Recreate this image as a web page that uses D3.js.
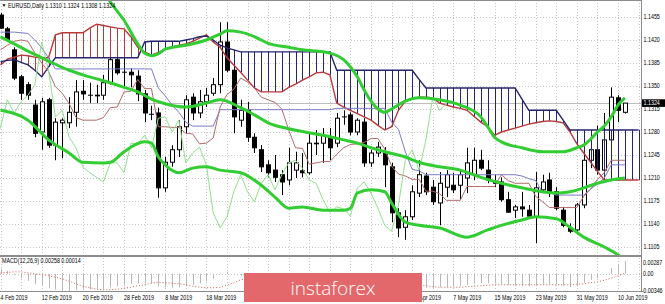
<!DOCTYPE html>
<html>
<head>
<meta charset="utf-8">
<script src="https://cdn.jsdelivr.net/npm/d3@7"></script>
<style>
  body { margin: 0; background: #fff; }
  svg { display: block; }
  .lbl { font-family: "Liberation Sans", Arial, sans-serif; font-size: 6.3px; fill: #000; }
</style>
</head>
<body>
<script>
// EURUSD daily, 4 Feb - 11 Jun 2019: candles, Ichimoku, Bollinger bands, MACD

// candles [open, high, low, close], one per trading day from 4 Feb 2019
const ohlc = [
  [1.1458,1.1461,1.1437,1.1438],[1.1437,1.1440,1.1417,1.1420],[1.1405,1.1409,1.1359,1.1362],[1.1364,1.1367,1.1329,1.1339],
  [1.1352,1.1356,1.1329,1.1336],[1.1321,1.1329,1.1272,1.1278],[1.1280,1.1332,1.1253,1.1326],[1.1329,1.1332,1.1256,1.1260],
  [1.1260,1.1301,1.1237,1.1295],[1.1294,1.1301,1.1240,1.1298],[1.1294,1.1333,1.1286,1.1310],[1.1310,1.1359,1.1288,1.1341],
  [1.1342,1.1359,1.1329,1.1338],[1.1336,1.1355,1.1324,1.1336],[1.1336,1.1352,1.1324,1.1335],[1.1336,1.1367,1.1329,1.1355],
  [1.1355,1.1397,1.1352,1.1390],[1.1390,1.1394,1.1367,1.1370],[1.1371,1.1394,1.1348,1.1371],[1.1371,1.1377,1.1348,1.1367],
  [1.1365,1.1374,1.1327,1.1338],[1.1338,1.1344,1.1295,1.1309],[1.1307,1.1320,1.1298,1.1307],[1.1309,1.1317,1.1180,1.1195],
  [1.1195,1.1242,1.1189,1.1234],[1.1234,1.1260,1.1227,1.1253],[1.1253,1.1298,1.1242,1.1288],[1.1288,1.1336,1.1278,1.1329],
  [1.1333,1.1339,1.1298,1.1309],[1.1309,1.1344,1.1301,1.1326],[1.1326,1.1347,1.1318,1.1336],[1.1339,1.1362,1.1335,1.1352],
  [1.1352,1.1447,1.1339,1.1417],[1.1417,1.1447,1.1371,1.1374],[1.1374,1.1383,1.1278,1.1303],[1.1298,1.1329,1.1288,1.1313],
  [1.1313,1.1326,1.1265,1.1272],[1.1272,1.1278,1.1248,1.1256],[1.1253,1.1260,1.1219,1.1227],[1.1230,1.1237,1.1211,1.1218],
  [1.1222,1.1245,1.1204,1.1211],[1.1215,1.1222,1.1184,1.1204],[1.1207,1.1256,1.1199,1.1233],[1.1222,1.1250,1.1210,1.1233],
  [1.1221,1.1248,1.1211,1.1218],[1.1218,1.1278,1.1215,1.1263],[1.1263,1.1283,1.1245,1.1262],[1.1263,1.1286,1.1233,1.1275],
  [1.1272,1.1286,1.1237,1.1256],[1.1263,1.1309,1.1257,1.1301],[1.1303,1.1313,1.1291,1.1303],[1.1306,1.1310,1.1275,1.1280],
  [1.1280,1.1301,1.1275,1.1298],[1.1295,1.1301,1.1227,1.1233],[1.1233,1.1253,1.1227,1.1248],[1.1248,1.1265,1.1242,1.1257],
  [1.1250,1.1257,1.1196,1.1230],[1.1227,1.1233,1.1143,1.1157],[1.1157,1.1164,1.1120,1.1134],[1.1135,1.1161,1.1116,1.1151],
  [1.1151,1.1199,1.1146,1.1189],[1.1187,1.1237,1.1181,1.1215],[1.1213,1.1218,1.1184,1.1189],[1.1196,1.1207,1.1169,1.1174],
  [1.1172,1.1219,1.1138,1.1202],[1.1196,1.1222,1.1181,1.1215],[1.1199,1.1218,1.1187,1.1192],[1.1199,1.1222,1.1177,1.1215],
  [1.1210,1.1256,1.1187,1.1233],[1.1215,1.1256,1.1207,1.1237],[1.1237,1.1253,1.1222,1.1225],[1.1222,1.1237,1.1202,1.1207],
  [1.1205,1.1215,1.1196,1.1202],[1.1204,1.1211,1.1174,1.1177],[1.1177,1.1189,1.1157,1.1158],[1.1161,1.1169,1.1149,1.1166],
  [1.1166,1.1189,1.1151,1.1163],[1.1161,1.1169,1.1149,1.1152],[1.1151,1.1219,1.1111,1.1195],[1.1192,1.1215,1.1187,1.1204],
  [1.1207,1.1218,1.1181,1.1187],[1.1189,1.1196,1.1161,1.1164],[1.1161,1.1166,1.1135,1.1138],[1.1134,1.1141,1.1126,1.1129],
  [1.1131,1.1172,1.1128,1.1169],[1.1169,1.1253,1.1164,1.1237],[1.1237,1.1275,1.1225,1.1253],[1.1253,1.1290,1.1215,1.1222],
  [1.1222,1.1309,1.1216,1.1268],[1.1268,1.1348,1.1255,1.1333],[1.1332,1.1336,1.1295,1.1313],[1.1310,1.1324,1.1308,1.1324]
];

// Ichimoku
const tenkan = [1.1405,1.1412,1.1418,1.1420,1.1418,1.1400,1.1385,1.1372,1.1349,1.1339,1.1323,1.1302,1.1298,1.1298,1.1298,1.1302,
  1.1317,1.1318,1.1341,1.1342,1.1360,1.1346,1.1346,1.1288,1.1288,1.1287,1.1287,1.1278,1.1277,1.1262,1.1263,1.1271,
  1.1318,1.1337,1.1345,1.1362,1.1356,1.1347,1.1333,1.1329,1.1325,1.1315,1.1283,1.1256,1.1255,1.1231,1.1233,1.1235,
  1.1235,1.1246,1.1256,1.1261,1.1262,1.1264,1.1270,1.1270,1.1254,1.1228,1.1216,1.1213,1.1208,1.1208,1.1190,1.1190,
  1.1186,1.1176,1.1176,1.1176,1.1197,1.1197,1.1197,1.1197,1.1197,1.1215,1.1206,1.1202,1.1202,1.1202,1.1182,1.1174,
  1.1165,1.1165,1.1165,1.1165,1.1165,1.1182,1.1193,1.1208,1.1218,1.1237,1.1237,1.1237];
const kijun = [1.1432,1.1432,1.1432,1.1431,1.1430,1.1420,1.1408,1.1393,1.1376,1.1376,1.1376,1.1376,1.1376,1.1376,1.1376,1.1376,
  1.1376,1.1376,1.1376,1.1376,1.1376,1.1376,1.1376,1.1347,1.1335,1.1321,1.1310,1.1295,1.1289,1.1289,1.1289,1.1289,
  1.1314,1.1314,1.1314,1.1314,1.1314,1.1314,1.1314,1.1314,1.1314,1.1314,1.1314,1.1314,1.1314,1.1314,1.1314,1.1314,
  1.1314,1.1316,1.1316,1.1316,1.1316,1.1316,1.1316,1.1316,1.1316,1.1295,1.1284,1.1250,1.1223,1.1221,1.1215,1.1215,
  1.1215,1.1215,1.1215,1.1215,1.1215,1.1215,1.1215,1.1215,1.1215,1.1215,1.1215,1.1215,1.1213,1.1209,1.1206,1.1188,
  1.1188,1.1184,1.1184,1.1184,1.1184,1.1184,1.1193,1.1201,1.1210,1.1230,1.1230,1.1230];
// senkou spans run 2 bars past the last candle (to the right edge)
const spanA = [1.1382,1.1391,1.1394,1.1397,1.1396,1.1394,1.1393,1.1393,1.1428,1.1431,1.1431,1.1431,1.1431,1.1438,1.1444,1.1442,
  1.1440,1.1438,1.1437,1.1425,1.1409,1.1402,1.1397,1.1401,1.1406,1.1409,1.1412,1.1414,1.1418,1.1423,1.1428,1.1417,
  1.1409,1.1393,1.1382,1.1371,1.1359,1.1347,1.1341,1.1341,1.1341,1.1341,1.1348,1.1353,1.1359,1.1364,1.1370,1.1371,
  1.1367,1.1324,1.1318,1.1313,1.1308,1.1303,1.1298,1.1290,1.1283,1.1288,1.1313,1.1327,1.1330,1.1333,1.1333,1.1332,
  1.1324,1.1321,1.1318,1.1316,1.1313,1.1304,1.1295,1.1288,1.1275,1.1280,1.1283,1.1286,1.1289,1.1292,1.1294,1.1296,
  1.1297,1.1296,1.1294,1.1280,1.1262,1.1248,1.1234,1.1220,1.1207,1.1207,1.1207,1.1207,1.1207,1.1207];
const spanB = [1.1387,1.1389,1.1390,1.1386,1.1382,1.1374,1.1364,1.1379,1.1393,1.1393,1.1393,1.1393,1.1393,1.1393,1.1393,1.1393,
  1.1393,1.1393,1.1393,1.1393,1.1393,1.1417,1.1418,1.1418,1.1418,1.1418,1.1418,1.1420,1.1422,1.1425,1.1426,1.1420,
  1.1412,1.1408,1.1405,1.1402,1.1402,1.1402,1.1402,1.1402,1.1402,1.1402,1.1402,1.1402,1.1402,1.1402,1.1402,1.1402,
  1.1402,1.1374,1.1374,1.1374,1.1374,1.1374,1.1374,1.1374,1.1374,1.1374,1.1374,1.1374,1.1374,1.1360,1.1347,1.1347,
  1.1347,1.1347,1.1347,1.1347,1.1347,1.1347,1.1347,1.1347,1.1347,1.1347,1.1347,1.1347,1.1330,1.1313,1.1313,1.1313,
  1.1313,1.1313,1.1298,1.1283,1.1283,1.1283,1.1283,1.1283,1.1283,1.1283,1.1283,1.1283,1.1283,1.1283];
const chikouShift = 26;

// Bollinger bands, [bar, price]
const bbUpper = [[0,1.1560],[8,1.1560],[12,1.1545],[14,1.1520],[16,1.1478],[17,1.1464],[18,1.1450],[19,1.1432],[20,1.1414],
  [21,1.1400],[22,1.1396],[23,1.1399],[24,1.1406],[27,1.1412],[30,1.1420],[32,1.1429],[33,1.1434],[35,1.1432],[37,1.1425],
  [39,1.1415],[42,1.1409],[44,1.1405],[47,1.1402],[48,1.1400],[50,1.1390],[51,1.1379],[52,1.1364],[53,1.1344],[54,1.1327],
  [55,1.1315],[56,1.1310],[57,1.1315],[59,1.1327],[61,1.1332],[64,1.1329],[67,1.1321],[70,1.1303],[71,1.1288],[72,1.1272],
  [73,1.1265],[76,1.1256],[79,1.1250],[82,1.1250],[84,1.1256],[85,1.1260],[86,1.1269],[87,1.1280],[88,1.1289],[89,1.1303],
  [90,1.1321],[91,1.1332]];
const bbMiddle = [[0,1.1425],[2,1.1414],[4,1.1403],[7,1.1388],[10,1.1374],[12,1.1367],[15,1.1358],[18,1.1348],[20,1.1341],
  [22,1.1330],[24,1.1323],[27,1.1318],[30,1.1324],[32,1.1329],[35,1.1317],[37,1.1306],[39,1.1294],[42,1.1285],[47,1.1275],
  [50,1.1268],[52,1.1263],[54,1.1256],[56,1.1250],[59,1.1242],[61,1.1234],[64,1.1227],[67,1.1222],[70,1.1211],[73,1.1202],
  [76,1.1195],[79,1.1189],[81,1.1187],[83,1.1189],[85,1.1195],[87,1.1202],[89,1.1207],[91,1.1210]];
const bbLower = [[0,1.1313],[4,1.1298],[7,1.1268],[10,1.1248],[12,1.1234],[15,1.1233],[16,1.1234],[18,1.1250],[21,1.1265],
  [22,1.1263],[23,1.1242],[24,1.1230],[26,1.1218],[28,1.1225],[30,1.1227],[32,1.1222],[35,1.1218],[38,1.1199],[40,1.1181],
  [42,1.1164],[44,1.1166],[47,1.1161],[50,1.1161],[51,1.1164],[52,1.1187],[54,1.1192],[56,1.1189],[57,1.1172],[59,1.1143],
  [61,1.1138],[64,1.1134],[68,1.1120],[71,1.1131],[73,1.1138],[76,1.1146],[78,1.1151],[81,1.1148],[83,1.1135],[85,1.1120],
  [88,1.1105],[90,1.1093],[91,1.1085]];

// MACD(12,26,9): main (histogram) and signal
const macdMain = [0.0010,0.0006,-0.0002,-0.0009,-0.0014,-0.0021,-0.0023,-0.0029,-0.0032,-0.0034,-0.00346,-0.0033,-0.0032,
  -0.0031,-0.0030,-0.0029,-0.0027,-0.0025,-0.0022,-0.0020,-0.0019,-0.0019,-0.0019,-0.0025,-0.0027,-0.0028,-0.0027,-0.0024,
  -0.0022,-0.0019,-0.0015,-0.0010,0.0001,0.0004,-0.0001,-0.0004,-0.0008,-0.0012,-0.0017,-0.0021,-0.0024,-0.0027,-0.0027,
  -0.0027,-0.0027,-0.0024,-0.0022,-0.0019,-0.0019,-0.0015,-0.0012,-0.0011,-0.0010,-0.0013,-0.0014,-0.0014,-0.0016,-0.0022,
  -0.0028,-0.0031,-0.0031,-0.0029,-0.0028,-0.0028,-0.0027,-0.0026,-0.0025,-0.0024,-0.0022,-0.0020,-0.0019,-0.0019,-0.0019,
  -0.0020,-0.0022,-0.0023,-0.0024,-0.0025,-0.0023,-0.0020,-0.0020,-0.0021,-0.0024,-0.0027,-0.0025,-0.0018,-0.0012,-0.0009,
  0.0000,0.0012,0.0018,0.00258];
const macdSignal = [0.00016,0.0003,0.0004,0.0004,0.0002,0.0000,-0.0001,-0.0004,-0.0007,-0.0010,-0.0015,-0.0020,-0.0025,
  -0.0028,-0.0031,-0.0032,-0.0032,-0.0031,-0.0029,-0.0027,-0.0024,-0.0022,-0.0019,-0.0017,-0.0018,-0.0019,-0.0020,-0.0022,
  -0.0025,-0.0027,-0.0028,-0.0028,-0.0027,-0.0023,-0.0018,-0.0012,-0.0009,-0.0008,-0.0008,-0.0009,-0.0011,-0.0013,-0.0016,
  -0.0019,-0.0022,-0.0024,-0.0025,-0.0025,-0.0024,-0.0023,-0.0021,-0.0019,-0.0017,-0.0016,-0.0015,-0.0015,-0.0015,-0.0016,
  -0.0018,-0.0019,-0.0021,-0.0023,-0.0024,-0.0026,-0.0027,-0.0027,-0.0027,-0.0027,-0.0026,-0.0025,-0.0024,-0.0023,-0.0022,
  -0.0022,-0.0022,-0.0022,-0.0022,-0.0022,-0.0022,-0.0022,-0.0022,-0.0022,-0.0022,-0.0022,-0.0021,-0.0020,-0.0018,-0.0016,
  -0.0013,-0.0009,-0.0004,0.00014];

// axes
const priceTicks = [1.1455,1.1420,1.1385,1.1350,1.1315,1.1280,1.1245,1.1210,1.1175,1.1140,1.1105];
const macdTickText = ["0.00287","0.00","-0.00346"];
const dateIdx = [0,6,12,18,24,30,60,66,72,78,84,90];
const dateText = ["4 Feb 2019","12 Feb 2019","20 Feb 2019","28 Feb 2019","8 Mar 2019","18 Mar 2019",
  "29 Apr 2019","7 May 2019","15 May 2019","23 May 2019","31 May 2019","10 Jun 2019"];
const lastPrice = 1.1324;

const W = 665, H = 304;
const plotR = 641, mainB = 255, macdT = 257, macdB = 291;
const squeeze = 0.85; // axis font is narrower than Liberation Sans

const svg = d3.select("body").append("svg").attr("width", W).attr("height", H);

const x = d3.scaleLinear().domain([0, 91]).range([0.53, 624.9]);
const y = d3.scaleLinear().domain([1.1105, 1.1455]).range([247, 17]);
const ym = d3.scaleLinear().domain([-0.00346, 0.00287]).range([291, 259.6]);

const defs = svg.append("defs");
defs.append("clipPath").attr("id", "clipMain").append("rect")
  .attr("x", 0).attr("y", 0).attr("width", plotR).attr("height", mainB);
defs.append("clipPath").attr("id", "clipMacd").append("rect")
  .attr("x", 0).attr("y", macdT).attr("width", plotR).attr("height", macdB - macdT);

function label(g, px, py, txt) {
  return g.append("text").attr("class", "lbl")
    .attr("transform", `translate(${px},${py}) scale(${squeeze},1)`)
    .attr("dy", "0.35em").text(txt);
}

// grid
const grid = svg.append("g").attr("stroke", "#c6c6c6").attr("stroke-dasharray", "1,2").attr("stroke-width", 1);
grid.selectAll(".gv").data(d3.range(0, 94, 3)).enter().append("line")
  .attr("x1", d => Math.round(x(d)) + 0.5).attr("x2", d => Math.round(x(d)) + 0.5)
  .attr("y1", 0).attr("y2", macdB);
grid.selectAll(".gh").data(priceTicks).enter().append("line")
  .attr("x1", 0).attr("x2", plotR)
  .attr("y1", d => Math.round(y(d)) + 0.5).attr("y2", d => Math.round(y(d)) + 0.5);
grid.append("line").attr("x1", 0).attr("x2", plotR)
  .attr("y1", Math.round(ym(0)) + 0.5).attr("y2", Math.round(ym(0)) + 0.5);

const main = svg.append("g").attr("clip-path", "url(#clipMain)");

// bid line
main.append("line").attr("x1", 0).attr("x2", plotR)
  .attr("y1", Math.round(y(lastPrice)) + 0.5).attr("y2", Math.round(y(lastPrice)) + 0.5)
  .attr("stroke", "#bdbdbd").attr("stroke-width", 1);

// candles
const bw = 4;
const cg = main.append("g");
cg.selectAll(".wick").data(ohlc).enter().append("line")
  .attr("x1", (d, i) => Math.round(x(i)) + 0.5).attr("x2", (d, i) => Math.round(x(i)) + 0.5)
  .attr("y1", d => y(d[1])).attr("y2", d => y(d[2]))
  .attr("stroke", "#000").attr("stroke-width", 1);
cg.selectAll(".body").data(ohlc).enter().append("rect")
  .attr("x", (d, i) => Math.round(x(i)) + 0.5 - bw / 2)
  .attr("y", d => y(Math.max(d[0], d[3])))
  .attr("width", bw)
  .attr("height", d => Math.max(0.01, Math.abs(y(d[0]) - y(d[3]))))
  .attr("fill", d => d[3] >= d[0] ? "#fff" : "#000")
  .attr("stroke", "#000").attr("stroke-width", 1);

// cloud hatch
const cloud = main.append("g");
cloud.selectAll("line").data(spanA).enter().append("line")
  .attr("x1", (d, i) => Math.round(x(i)) + 0.5).attr("x2", (d, i) => Math.round(x(i)) + 0.5)
  .attr("y1", d => y(d)).attr("y2", (d, i) => y(spanB[i]))
  .attr("stroke", (d, i) => d >= spanB[i] ? "#b73a3a" : "#25256e")
  .attr("stroke-width", 1);

const lineIdx = d3.line().x((d, i) => x(i)).y(d => y(d));
const lineKnot = d3.line().x(d => x(d[0])).y(d => y(d[1])).curve(d3.curveMonotoneX);

main.append("path").attr("d", lineIdx(spanA)).attr("fill", "none").attr("stroke", "#b73a3a").attr("stroke-width", 1.4);
main.append("path").attr("d", lineIdx(spanB)).attr("fill", "none").attr("stroke", "#25256e").attr("stroke-width", 1.4);
main.append("path").attr("d", lineIdx(kijun)).attr("fill", "none").attr("stroke", "#7b7bc8").attr("stroke-width", 1);
main.append("path").attr("d", lineIdx(tenkan)).attr("fill", "none").attr("stroke", "#b46a6a").attr("stroke-width", 1);

// chikou span: closes drawn 26 bars back
const chikou = ohlc.map((d, i) => [i - chikouShift, d[3]]);
main.append("path")
  .attr("d", d3.line().x(d => x(d[0])).y(d => y(d[1]))(chikou))
  .attr("fill", "none").attr("stroke", "#8fe08f").attr("stroke-width", 1);

// bollinger
[bbUpper, bbMiddle, bbLower].forEach(band => {
  main.append("path").attr("d", lineKnot(band)).attr("fill", "none")
    .attr("stroke", "#32cd32").attr("stroke-width", 3).attr("stroke-linejoin", "round");
});

// MACD panel
const mg = svg.append("g").attr("clip-path", "url(#clipMacd)");
mg.selectAll(".hist").data(macdMain).enter().append("line")
  .attr("x1", (d, i) => Math.round(x(i)) + 0.5).attr("x2", (d, i) => Math.round(x(i)) + 0.5)
  .attr("y1", ym(0)).attr("y2", d => ym(d))
  .attr("stroke", "#b8b8b8").attr("stroke-width", 1);
mg.append("path")
  .attr("d", d3.line().x((d, i) => x(i)).y(d => ym(d))(macdSignal))
  .attr("fill", "none").attr("stroke", "#d05a5a").attr("stroke-width", 1).attr("stroke-dasharray", "1,2");

// frame
svg.append("line").attr("x1", 0).attr("x2", plotR).attr("y1", 256).attr("y2", 256)
  .attr("stroke", "#8c8c8c").attr("stroke-width", 2);
svg.append("line").attr("x1", plotR + 0.5).attr("x2", plotR + 0.5).attr("y1", 0).attr("y2", macdB + 1)
  .attr("stroke", "#8c8c8c").attr("stroke-width", 1);
svg.append("line").attr("x1", 0).attr("x2", plotR + 1).attr("y1", macdB + 0.5).attr("y2", macdB + 0.5)
  .attr("stroke", "#8c8c8c").attr("stroke-width", 1);
svg.append("line").attr("x1", 0).attr("x2", plotR + 1).attr("y1", 0.5).attr("y2", 0.5)
  .attr("stroke", "#8c8c8c").attr("stroke-width", 1);

// price axis
const axis = svg.append("g");
priceTicks.forEach(p => label(axis, 643.5, y(p), p.toFixed(4)));
[262.3, 274, 291].forEach((py, i) => label(axis, i === 2 ? 641.5 : 643, py, macdTickText[i]));

// last price tag
svg.append("rect").attr("x", 642).attr("y", y(lastPrice) - 3.8).attr("width", 23).attr("height", 7.6).attr("fill", "#000");
label(svg, 643.5, y(lastPrice), lastPrice.toFixed(4)).style("fill", "#fff");

// date axis (labels under the logo are covered in the original)
const dates = svg.append("g");
dateIdx.forEach((b, i) => label(dates, x(b), 297.5, dateText[i]));

// titles
svg.append("text").attr("class", "lbl").attr("x", 1.5).attr("y", 5.5).attr("dy", "0.35em")
  .style("font-size", "5px").text("\u25BC");
label(svg, 8, 5.5, "EURUSD,Daily  1.1310 1.1324 1.1308 1.1324");
label(svg, 2, 261, "MACD(12,26,9) 0.00258 0.00014");

// logo
svg.append("rect").attr("x", 244).attr("y", 273).attr("width", 178).attr("height", 29).attr("fill", "#e2686c");
svg.append("text").attr("x", 333).attr("y", 294.5).attr("text-anchor", "middle")
  .style("font-family", "'Open Sans', Roboto, sans-serif").style("font-size", "19px")
  .style("font-weight", 300).style("fill", "#fff")
  .text("instaforex");
</script>
</body>
</html>
